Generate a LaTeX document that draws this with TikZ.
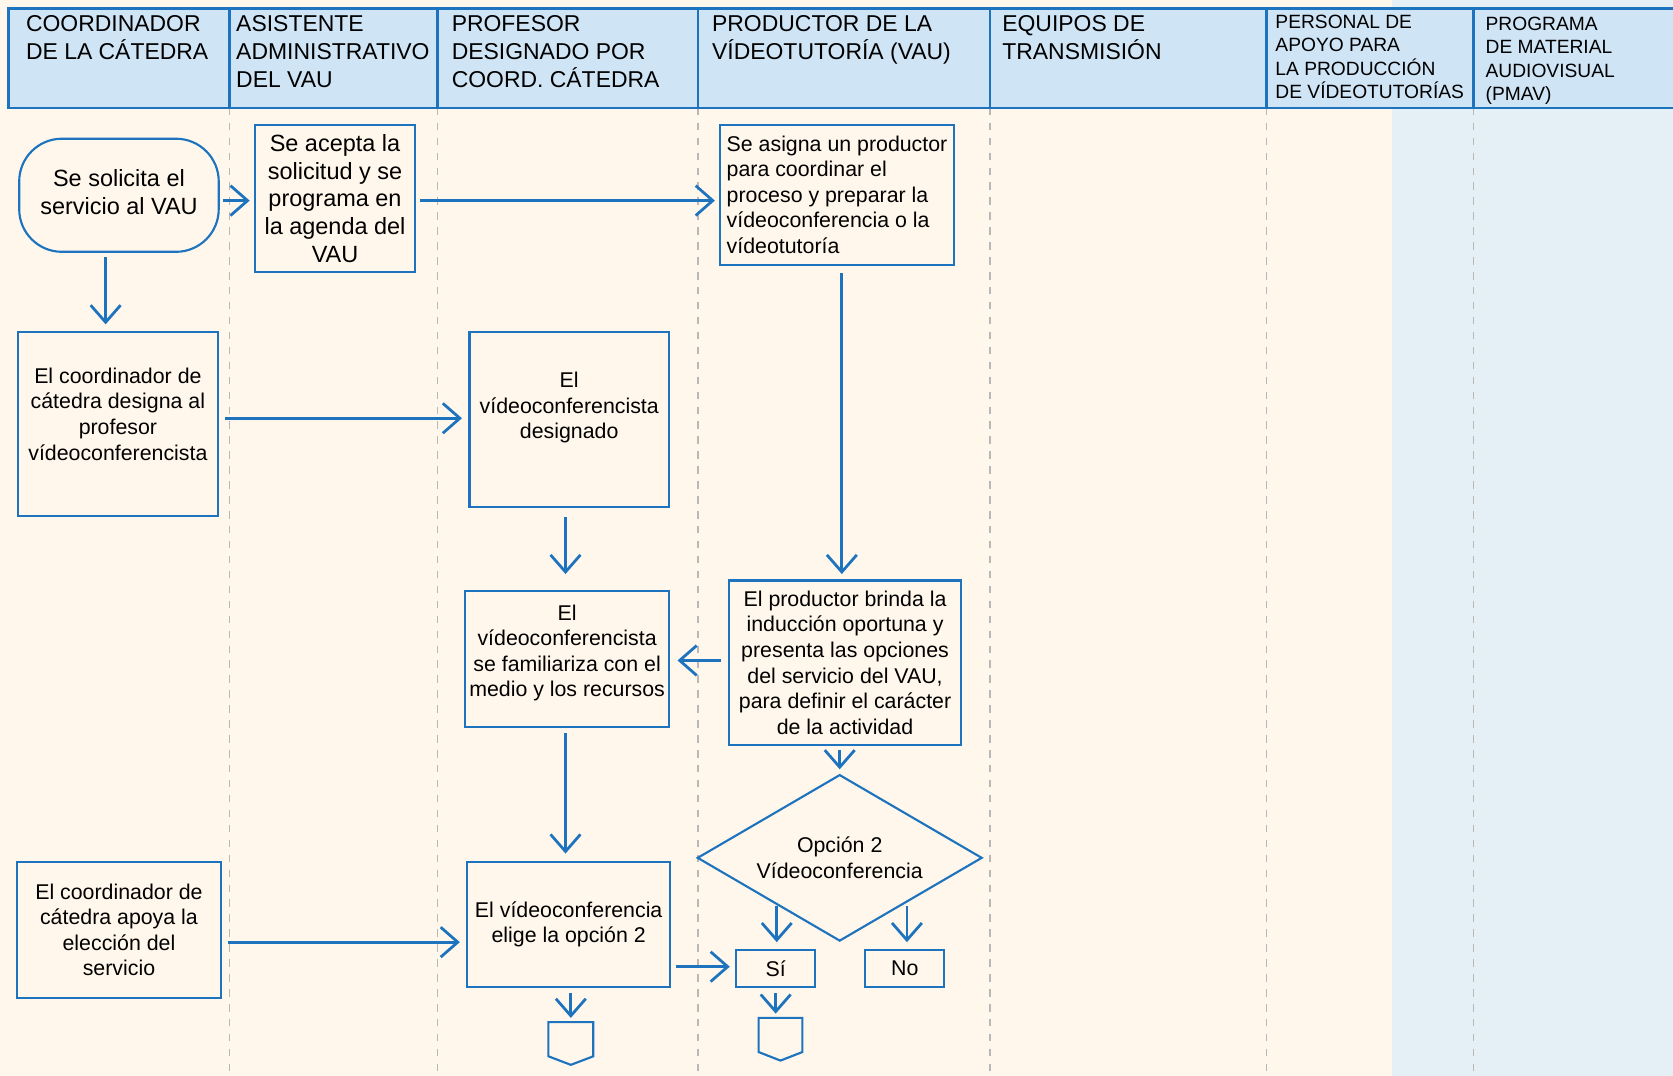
\documentclass[tikz,border=0pt]{standalone}
\usepackage{fontspec}
\setmainfont{Liberation Sans}
\usetikzlibrary{arrows.meta,shapes.geometric,calc}
\definecolor{cream}{HTML}{FFF7EB}
\definecolor{lightb}{HTML}{E4EFF6}
\definecolor{hdrfill}{HTML}{CFE4F5}
\definecolor{flowblue}{HTML}{1E73BE}
\definecolor{lanegray}{HTML}{B8B8B8}
\newcommand\myfA{\fontsize{11pt}{13pt}\selectfont}
\newcommand\myfB{\fontsize{10pt}{12pt}\selectfont}
\newcommand\myfH{\fontsize{10.75pt}{13pt}\selectfont}
\newcommand\myfS{\fontsize{9pt}{11pt}\selectfont}
\begin{document}
\begin{tikzpicture}[x=0.5pt,y=-0.5pt,
 box/.style={draw=flowblue,line width=1pt,align=center,inner sep=0pt,font=\myfB,text=black},
 lbl/.style={font=\myfB,align=center,inner sep=0pt,text=black},
 arr/.style={draw=flowblue,line width=1.3pt,-{Straight Barb[length=8pt,width=14pt]}},
 lane/.style={draw=lanegray,line width=0.8pt,dash pattern=on 3.5pt off 3.5pt},
 htxt/.style={anchor=north west,align=left,inner sep=0pt,font=\myfH,text=black},
 hsmall/.style={htxt,font=\myfS},
 offpage/.style={draw=flowblue,line width=1pt}
]
\useasboundingbox (0,0) rectangle (1568,1008);
\fill[cream] (0,0) rectangle (1568,1008);
\fill[lightb] (1305,0) rectangle (1568,1008);
\foreach \x in {215,410,654,928,1187,1381} \draw[lane] (\x,101) -- (\x,1008);
% header
\draw[draw=flowblue,line width=1.1pt,fill=hdrfill] (8,8) rectangle (1590,101);
\foreach \x in {215,410,654,928,1187,1381} \draw[flowblue,line width=1.1pt] (\x,8) -- (\x,101);
\node[htxt] (h1) at (24,14.5) {COORDINADOR\\DE LA CÁTEDRA};
\node[htxt] (h2) at (221,14.5) {ASISTENTE\\ADMINISTRATIVO\\DEL VAU};
\node[htxt] (h3) at (423,14.5) {PROFESOR\\DESIGNADO POR\\COORD. CÁTEDRA};
\node[htxt] (h4) at (667,14.5) {PRODUCTOR DE LA\\VÍDEOTUTORÍA (VAU)};
\node[htxt] (h5) at (939,14.5) {EQUIPOS DE\\TRANSMISIÓN};
\node[hsmall] (h6) at (1195,13.5) {PERSONAL DE\\APOYO PARA\\LA PRODUCCIÓN\\DE VÍDEOTUTORÍAS};
\node[hsmall] (h7) at (1392,15.5) {PROGRAMA\\DE MATERIAL\\AUDIOVISUAL\\(PMAV)};
% nodes
\node[box,rounded corners=20pt,minimum width=93.5pt,minimum height=53pt,label={[lbl,font=\myfA,yshift=1.5pt]center:{Se solicita el\\servicio al VAU}}] (n1) at (111.5,183) {};
\node[box,minimum width=75pt,minimum height=69pt,font=\myfA] (n2) at (314,186) {Se acepta la\\solicitud y se\\programa en\\la agenda del\\VAU};
\node[box,align=left,minimum width=109.5pt,minimum height=65.5pt] (n3) at (784.5,182.5) {Se asigna un productor\\para coordinar el\\proceso y preparar la\\vídeoconferencia o la\\vídeotutoría};
\node[box,minimum width=93.5pt,minimum height=86.5pt,label={[lbl,yshift=4.75pt]center:{El coordinador de\\cátedra designa al\\profesor\\vídeoconferencista}}] (n4) at (110.5,397.5) {};
\node[box,minimum width=93.5pt,minimum height=82pt,label={[lbl,yshift=5.5pt]center:{El\\vídeoconferencista\\designado}}] (n5) at (533.5,393) {};
\node[box,minimum width=95.5pt,minimum height=63.5pt,label={[lbl,yshift=2.75pt]center:{El\\vídeoconferencista\\se familiariza con el\\medio y los recursos}}] (n6) at (531.5,617.5) {};
\node[box,minimum width=109pt,minimum height=77pt] (n7) at (792,621) {El productor brinda la\\inducción oportuna y\\presenta las opciones\\del servicio del VAU,\\para definir el carácter\\de la actividad};
\node[box,diamond,aspect=1.7,minimum width=133.5pt,minimum height=78pt] (d) at (787,804) {Opción 2\\Vídeoconferencia};
\node[box,minimum width=95.5pt,minimum height=63.5pt] (n9) at (111.5,871.5) {El coordinador de\\cátedra apoya la\\elección del\\servicio};
\node[box,minimum width=95pt,minimum height=58.5pt] (n10) at (533,866.5) {El vídeoconferencia\\elige la opción 2};
\node[box,minimum width=37pt,minimum height=17.5pt] (si) at (727,907.5) {Sí};
\node[box,minimum width=37pt,minimum height=17.5pt] (no) at (848,907.5) {No};
% off-page connectors
\draw[offpage] (514,958) -- (556,958) -- (556,990) -- (535,998) -- (514,990) -- cycle;
\coordinate (c1) at (535,958);
\draw[offpage] (711,954) -- (752,954) -- (752,986) -- (731.5,994) -- (711,986) -- cycle;
\coordinate (c2) at (731.5,954);
% arrows
\draw[arr] ($(n1.east)+(3,5)$) -- ($(n1.east -| n2.west)+(-4,5)$);
\draw[arr] ($(n2.east)+(4,2)$) -- ($(n2.east -| n3.west)+(-4,2)$);
\draw[arr] ($(n1.south)+(-12.5,4)$) -- ($(n1.south |- n4.north)+(-12.5,-6)$);
\draw[arr] ($(n4.east)+(6,-5.5)$) -- ($(n4.east -| n5.west)+(-6,-5.5)$);
\draw[arr] ($(n3.south)+(4.5,7)$) -- ($(n3.south |- n7.north)+(4.5,-5)$);
\draw[arr] ($(n5.south)+(-3.5,9)$) -- ($(n5.south |- n6.north)+(-3.5,-15)$);
\draw[arr] ($(n7.west)+(-6,-2)$) -- ($(n7.west -| n6.east)+(7,-2)$);
\draw[arr] ($(n6.south)+(-1.5,5)$) -- ($(n6.south |- n10.north)+(-1.5,-7)$);
\draw[arr] ($(n7.south)+(-5,4)$) -- ($(n7.south |- d.north)+(-5,-4)$);
\draw[arr] ($(n9.east)+(6,11.5)$) -- ($(n9.east -| n10.west)+(-6,11.5)$);
\draw[arr] ($(n10.east |- si.west)+(5,-1.5)$) -- ($(si.west)+(-5,-1.5)$);
\draw[arr] ($(si.north |- d.south west)+(1,6)$) -- ($(si.north)+(1,-6)$);
\draw[arr] ($(no.north |- d.south east)+(2,6)$) -- ($(no.north)+(2,-6)$);
\draw[arr] ($(n10.south)+(2,5)$) -- ($(c1)+(0,-4)$);
\draw[arr] ($(si.south)+(0,5)$) -- ($(si.south |- c2)+(0,-4)$);
\end{tikzpicture}
\end{document}
